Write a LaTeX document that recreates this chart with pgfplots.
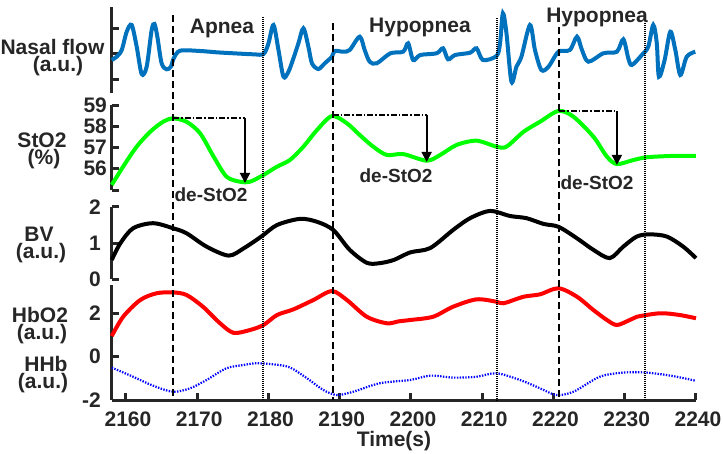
\documentclass[border=0pt]{standalone}
\usepackage{fontspec}
\setmainfont{Liberation Sans}
\usepackage{pgfplots}
\pgfplotsset{compat=1.18}
\usetikzlibrary{arrows.meta}
\definecolor{ink}{HTML}{262626}
\definecolor{flowblue}{HTML}{0072BD}
\definecolor{stogreen}{HTML}{00FF00}
\newcommand\lbl{\fontsize{10.5bp}{12bp}\selectfont\bfseries}
\newcommand\annot{\fontsize{9.5bp}{11bp}\selectfont\bfseries}

\pgfplotsset{
  panel/.style={
    scale only axis, width=292.125bp, anchor=south west,
    xmin=2158, xmax=2240, clip=false,
    axis y line*=left,
    axis line style={ink, line width=1.5bp, -},
    tick align=inside, major tick length=3.5bp,
    tick style={ink, line width=1.5bp},
    ticklabel style={font=\lbl, text=ink},
    /pgf/number format/assume math mode=true,
    /pgf/number format/1000 sep={},
  },
  top panel/.style={panel, axis x line=none, xtick=\empty},
  curve/.style={line width=2bp, smooth},
}

\begin{document}
\begin{tikzpicture}
\path[use as bounding box] (0,0) rectangle (361.5bp,-227bp);

% nasal flow
\begin{axis}[top panel, at={(55.875bp,-46.5bp)}, height=43bp,
  ymin=-40, ymax=46, ytick={-26,0,25}, yticklabels={}]
\addplot[flowblue, curve] coordinates {
(2158.0,-7) (2158.7,-3.7) (2159.4,3) (2160.1,21.3) (2160.8,28) (2161.5,6.3) (2162.2,-21) (2162.9,-13.7)
(2163.6,23) (2164.0,29) (2164.4,16.3) (2165.0,-10.3) (2165.7,-16.3) (2166.3,-13.7) (2166.7,-5.3) (2167.6,2.3)
(2170.4,2) (2172.7,0.7) (2175.1,-0.3) (2177.9,-1.3) (2179.3,-1) (2180.0,9.7) (2180.7,28) (2181.4,3)
(2182.1,-23.7) (2182.8,-18.7) (2183.5,-5.3) (2184.2,9.7) (2184.9,24.7) (2185.6,6.3) (2186.1,-10.3) (2187.0,-16)
(2187.9,-10.3) (2188.9,-3.7) (2189.3,2) (2190.5,1.3) (2191.4,3) (2192.8,16.3) (2193.5,3) (2194.2,-8.7)
(2195.2,-10.3) (2197.1,-0.3) (2198.9,1.3) (2199.6,9.7) (2200.3,-7) (2201.3,-2) (2203.6,-0.3) (2204.5,4.7)
(2205.2,-6.3) (2206.2,-2) (2208.3,0.3) (2209.2,4.7) (2210.1,-7) (2212.0,-3) (2212.5,9.7) (2212.9,39.7)
(2213.4,19.7) (2214.1,-28.7) (2214.8,-13.7) (2215.5,-3.7) (2216.7,28) (2217.4,3) (2218.3,-17) (2219.3,-13.7)
(2220.7,1.3) (2222.3,3) (2223.3,16.3) (2224.0,3) (2224.9,-8.7) (2227.0,-0.3) (2228.9,1.3) (2229.8,13.7)
(2230.5,-5.3) (2231.0,-12) (2232.4,-2) (2233.3,6.3) (2234.0,28) (2234.5,9.7) (2234.8,-23.7) (2235.6,-7)
(2236.4,21.3) (2237.1,3) (2237.8,-22) (2238.7,-3.7) (2239.9,1.3)
};
\end{axis}

% StO2
\begin{axis}[top panel, at={(55.875bp,-95bp)}, height=42.5bp,
  ymin=55, ymax=59, ytick={55,56,57,58,59}, yticklabels={,56,57,58,59},
  yticklabel style={xshift=1.1bp}]
\addplot[stogreen, curve] coordinates {
(2158.0,55.24) (2159.6,56.10) (2161.5,57.04) (2163.4,57.74) (2165.2,58.21) (2166.6,58.37) (2168.5,58.21)
(2170.4,57.67) (2172.3,56.57) (2174.1,55.63) (2176.0,55.39) (2177.4,55.39) (2179.3,55.71) (2181.2,56.10)
(2183.0,56.41) (2184.9,57.04) (2186.8,57.82) (2188.9,58.48) (2191.0,58.14) (2192.8,57.59) (2194.7,57.04)
(2196.6,56.65) (2198.9,56.69) (2202.2,56.38) (2204.1,56.65) (2206.4,57.12) (2209.2,57.32) (2212.0,57.04)
(2213.4,57.04) (2215.8,57.74) (2218.1,58.21) (2220.7,58.72) (2222.8,58.45) (2225.6,57.51) (2227.5,56.57)
(2228.9,56.22) (2231.2,56.41) (2233.1,56.54) (2236.4,56.60) (2240,56.61)
};
% de-StO2 markers
\addplot[black, line width=0.8bp, dash pattern=on 3bp off 1bp on 0.8bp off 1bp] coordinates {(2166.6,58.39) (2176.7,58.39)};
\addplot[black, line width=0.9bp, -{Triangle[length=5bp,width=5bp]}] coordinates {(2176.7,58.39) (2176.7,55.33)};
\addplot[black, line width=0.8bp, dash pattern=on 3bp off 1bp on 0.8bp off 1bp] coordinates {(2189.0,58.53) (2202.2,58.53)};
\addplot[black, line width=0.9bp, -{Triangle[length=5bp,width=5bp]}] coordinates {(2202.2,58.53) (2202.2,56.32)};
\addplot[black, line width=0.8bp, dash pattern=on 3bp off 1bp on 0.8bp off 1bp] coordinates {(2220.8,58.72) (2228.9,58.72)};
\addplot[black, line width=0.9bp, -{Triangle[length=5bp,width=5bp]}] coordinates {(2228.9,58.72) (2228.9,56.18)};
\end{axis}

% BV
\begin{axis}[top panel, at={(55.875bp,-139.5bp)}, height=36bp,
  ymin=0, ymax=2, ytick={0,1,2}, yticklabels={0,1,2},
  yticklabel style={xshift=-1.9bp}]
\addplot[black, curve] coordinates {
(2158.0,0.53) (2159.2,0.99) (2161.0,1.41) (2163.8,1.55) (2166.6,1.41) (2168.5,1.27) (2171.3,0.90)
(2174.4,0.65) (2176.5,0.85) (2179.0,1.18) (2181.2,1.50) (2184.4,1.67) (2186.8,1.59) (2189.1,1.36)
(2191.4,0.81) (2193.8,0.45) (2195.6,0.44) (2197.6,0.53) (2199.9,0.74) (2202.7,0.86) (2205.9,1.36)
(2208.3,1.69) (2211.1,1.89) (2213.9,1.75) (2216.2,1.69) (2218.6,1.53) (2220.7,1.45) (2223.3,1.13)
(2225.6,0.81) (2227.9,0.58) (2229.8,0.90) (2231.7,1.18) (2233.5,1.24) (2235.9,1.18) (2238.2,0.90) (2240,0.58)
};
\end{axis}

% HbO2 and HHb
\begin{axis}[panel, at={(55.875bp,-200bp)}, height=57.5bp,
  axis x line*=bottom,
  ymin=-2, ymax=3.29, ytick={-2,0,2}, yticklabels={-2,0,2},
  yticklabel style={xshift=-1.9bp},
  xtick={2160,2170,...,2240},
  xticklabel style={yshift=-2.5bp, xshift=1bp}]
\addplot[red, curve] coordinates {
(2158.0,0.94) (2159.6,1.83) (2162.0,2.60) (2164.3,2.91) (2166.6,2.95) (2168.5,2.83) (2170.8,2.29)
(2173.2,1.53) (2175.1,1.09) (2177.4,1.22) (2179.3,1.45) (2181.2,1.91) (2183.5,2.17) (2186.3,2.60)
(2188.9,3.01) (2191.0,2.60) (2193.8,1.83) (2196.6,1.53) (2198.3,1.62) (2199.9,1.68) (2203.1,1.83)
(2205.9,2.29) (2209.2,2.63) (2212.0,2.52) (2213.0,2.45) (2215.8,2.75) (2218.1,2.86) (2220.7,3.14)
(2223.3,2.75) (2225.6,2.14) (2227.5,1.68) (2228.9,1.45) (2230.7,1.68) (2231.7,1.83) (2235.0,1.99)
(2237.7,1.91) (2240,1.76)
};
\addplot[blue, line width=1.1bp, smooth, dash pattern=on 0.7bp off 0.7bp] coordinates {
(2158.0,-0.51) (2161.0,-0.93) (2163.8,-1.34) (2166.6,-1.62) (2169.0,-1.46) (2171.3,-1.08) (2174.1,-0.54)
(2176.5,-0.39) (2178.3,-0.31) (2180.7,-0.36) (2183.0,-0.50) (2185.4,-1.00) (2187.7,-1.54) (2189.6,-1.77)
(2191.9,-1.62) (2195.6,-1.23) (2199.9,-1.08) (2202.7,-0.88) (2206.0,-0.97) (2209.2,-0.93) (2212.0,-0.77)
(2215.3,-1.08) (2218.1,-1.46) (2220.4,-1.77) (2222.8,-1.62) (2226.5,-0.93) (2229.8,-0.74) (2233.1,-0.74)
(2236.8,-0.90) (2239.9,-1.11)
};
\end{axis}

% event boundaries (y in pixel rows of the figure)
\begin{axis}[scale only axis, width=292.125bp, height=196.5bp, anchor=south west,
  at={(55.875bp,-200bp)}, xmin=2158, xmax=2240, ymin=7, ymax=400, y dir=reverse,
  hide axis, clip=false]
\addplot[black, line width=1.1bp, dash pattern=on 3.5bp off 2bp] coordinates {(2166.6,15) (2166.6,400)};
\addplot[black, line width=1.1bp, dash pattern=on 3.5bp off 2bp] coordinates {(2189.0,23) (2189.0,400)};
\addplot[black, line width=1.1bp, dash pattern=on 3.5bp off 2bp] coordinates {(2220.8,27) (2220.8,400)};
\addplot[black, line width=0.9bp, dash pattern=on 0.5bp off 0.5bp] coordinates {(2179.2,17) (2179.2,400)};
\addplot[black, line width=0.9bp, dash pattern=on 0.5bp off 0.5bp] coordinates {(2212.1,18) (2212.1,400)};
\addplot[black, line width=0.9bp, dash pattern=on 0.5bp off 0.5bp] coordinates {(2232.9,23) (2232.9,400)};
\end{axis}

\begin{scope}[every node/.style={inner sep=0pt, anchor=base, text=ink, font=\lbl}]
\node at (26.25bp,-27.3bp) {Nasal flow};
\node at (29bp,-35.8bp) {(a.u.)};
\node at (21bp,-73.8bp) {StO2};
\node at (22bp,-82.3bp) {(\%)};
\node at (19.5bp,-120.8bp) {BV};
\node at (20.5bp,-129.3bp) {(a.u.)};
\node at (20bp,-161.3bp) {HbO2};
\node at (21bp,-169.8bp) {(a.u.)};
\node at (23bp,-185.8bp) {HHb};
\node at (21.5bp,-194.3bp) {(a.u.)};
\node at (197bp,-223bp) {Time(s)};
\node at (111bp,-16.5bp) {Apnea};
\node at (210bp,-16bp) {Hypopnea};
\node at (298.5bp,-11bp) {Hypopnea};
\node[font=\annot] at (105.5bp,-100.5bp) {de-StO2};
\node[font=\annot] at (198bp,-91bp) {de-StO2};
\node[font=\annot] at (298.5bp,-94.5bp) {de-StO2};
\end{scope}
\end{tikzpicture}
\end{document}
